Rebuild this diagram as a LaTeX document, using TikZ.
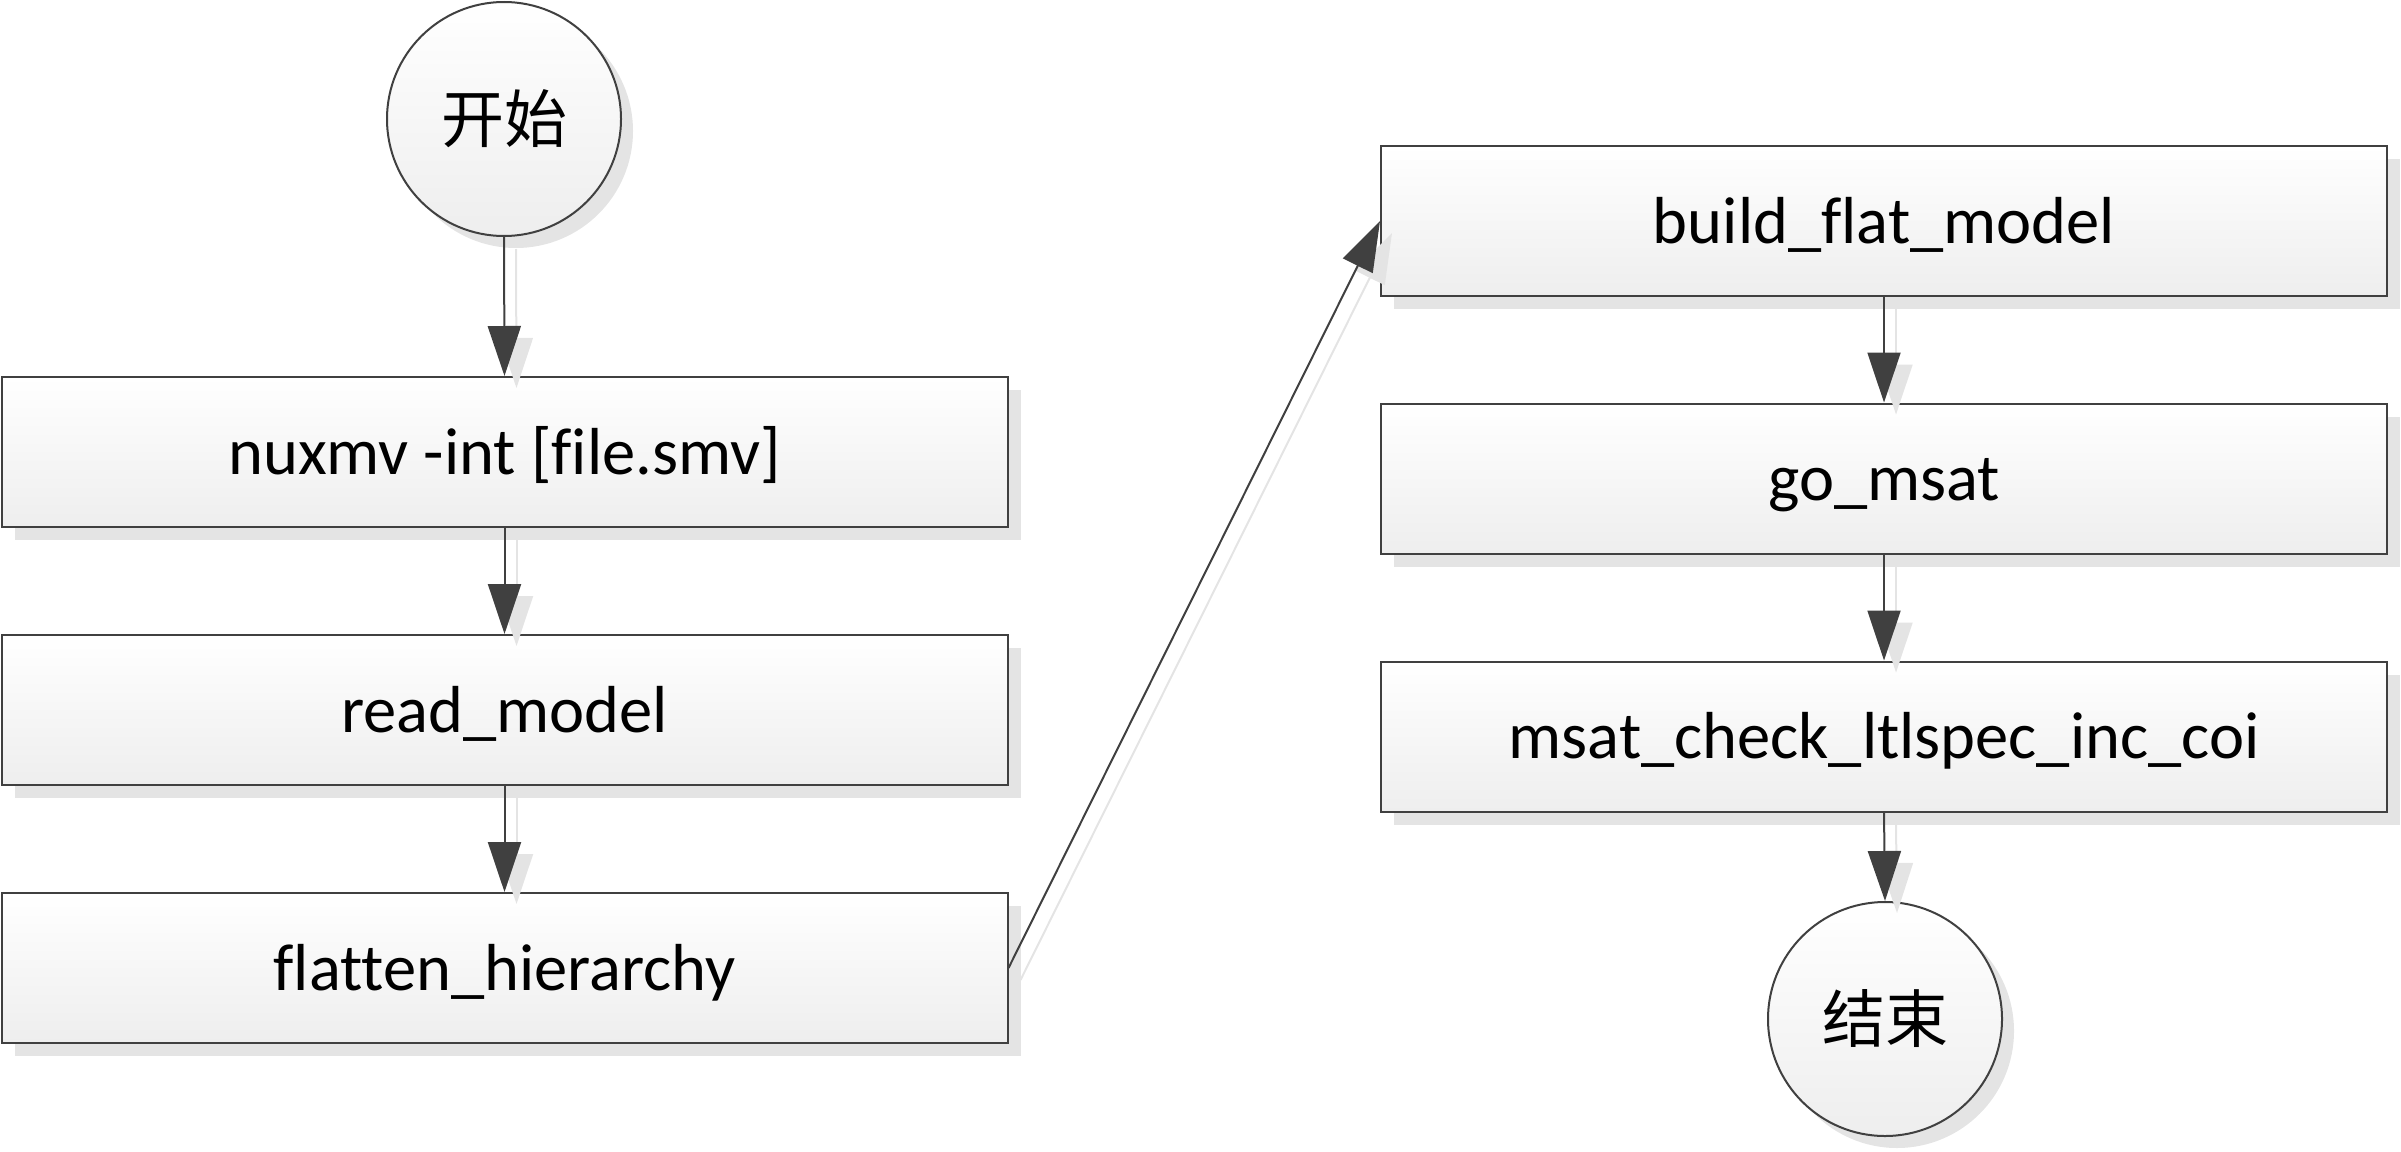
\documentclass[tikz,border=0pt]{standalone}
\usepackage{fontspec}
\setmainfont{Carlito}[Ligatures=NoCommon]
\newfontfamily\cjk{Noto Sans CJK SC}
\usetikzlibrary{arrows.meta,shadows}
\definecolor{edgegray}{RGB}{64,64,64}
\definecolor{shadowgray}{RGB}{228,228,228}
\definecolor{bottomgray}{RGB}{238,238,238}
\tikzset{
  procbox/.style={rectangle, draw=edgegray, line width=2pt,
    minimum width=1006pt, minimum height=150pt, inner sep=0pt,
    top color=white, bottom color=bottomgray,
    drop shadow={shadow xshift=13pt, shadow yshift=-13pt, fill=shadowgray, opacity=1},
    font=\fontsize{66.5}{78}\selectfont, text height=52pt, text depth=8pt},
  termnode/.style={circle, draw=edgegray, line width=2pt,
    minimum size=234pt, inner sep=0pt,
    top color=white, bottom color=bottomgray,
    drop shadow={shadow xshift=12pt, shadow yshift=-12pt, fill=shadowgray, opacity=1},
    font=\cjk\fontsize{63}{72}\selectfont},
  flowarrow/.style={draw=edgegray, line width=2pt,
    -{Triangle[length=50pt,width=33pt]}, fill=edgegray},
  shadowarrow/.style={draw=shadowgray, line width=2pt,
    -{Triangle[length=50pt,width=33pt]}, fill=shadowgray},
}
\begin{document}
\begin{tikzpicture}[x=1pt,y=-1pt]
\useasboundingbox (0,0) rectangle (2401,1151);
\node[termnode] (start) at (504,119) {开始};
\node[procbox] (nux) at (504.5,452) {nuxmv -int [file.smv]};
\node[procbox] (read) at (504.5,710) {read\_model};
\node[procbox] (flat) at (504.5,968) {flatten\_hierarchy};
\node[procbox] (build) at (1884,221) {build\_flat\_model};
\node[procbox] (go) at (1884,478.5) {go\_msat};
\node[procbox] (check) at (1884,736.5) {msat\_check\_ltlspec\_inc\_coi};
\node[termnode] (end) at (1885,1019) {结束};
% connector shadows
\draw[shadowarrow] ([shift={(12pt,-12pt)}]start.south) -- ([shift={(12pt,-12pt)}]nux.north);
\draw[shadowarrow] ([shift={(12pt,-12pt)}]nux.south) -- ([shift={(12pt,-12pt)}]read.north);
\draw[shadowarrow] ([shift={(12pt,-12pt)}]read.south) -- ([shift={(12pt,-12pt)}]flat.north);
\draw[shadowarrow] ([shift={(12pt,-12pt)}]flat.east) -- ([shift={(12pt,-12pt)}]build.west);
\draw[shadowarrow] ([shift={(12pt,-12pt)}]build.south) -- ([shift={(12pt,-12pt)}]go.north);
\draw[shadowarrow] ([shift={(12pt,-12pt)}]go.south) -- ([shift={(12pt,-12pt)}]check.north);
\draw[shadowarrow] ([shift={(12pt,-12pt)}]check.south) -- ([shift={(12pt,-12pt)}]end.north);
% connectors
\draw[flowarrow] (start.south) -- (nux.north);
\draw[flowarrow] (nux.south) -- (read.north);
\draw[flowarrow] (read.south) -- (flat.north);
\draw[flowarrow] (flat.east) -- (build.west);
\draw[flowarrow] (build.south) -- (go.north);
\draw[flowarrow] (go.south) -- (check.north);
\draw[flowarrow] (check.south) -- (end.north);
\end{tikzpicture}
\end{document}
